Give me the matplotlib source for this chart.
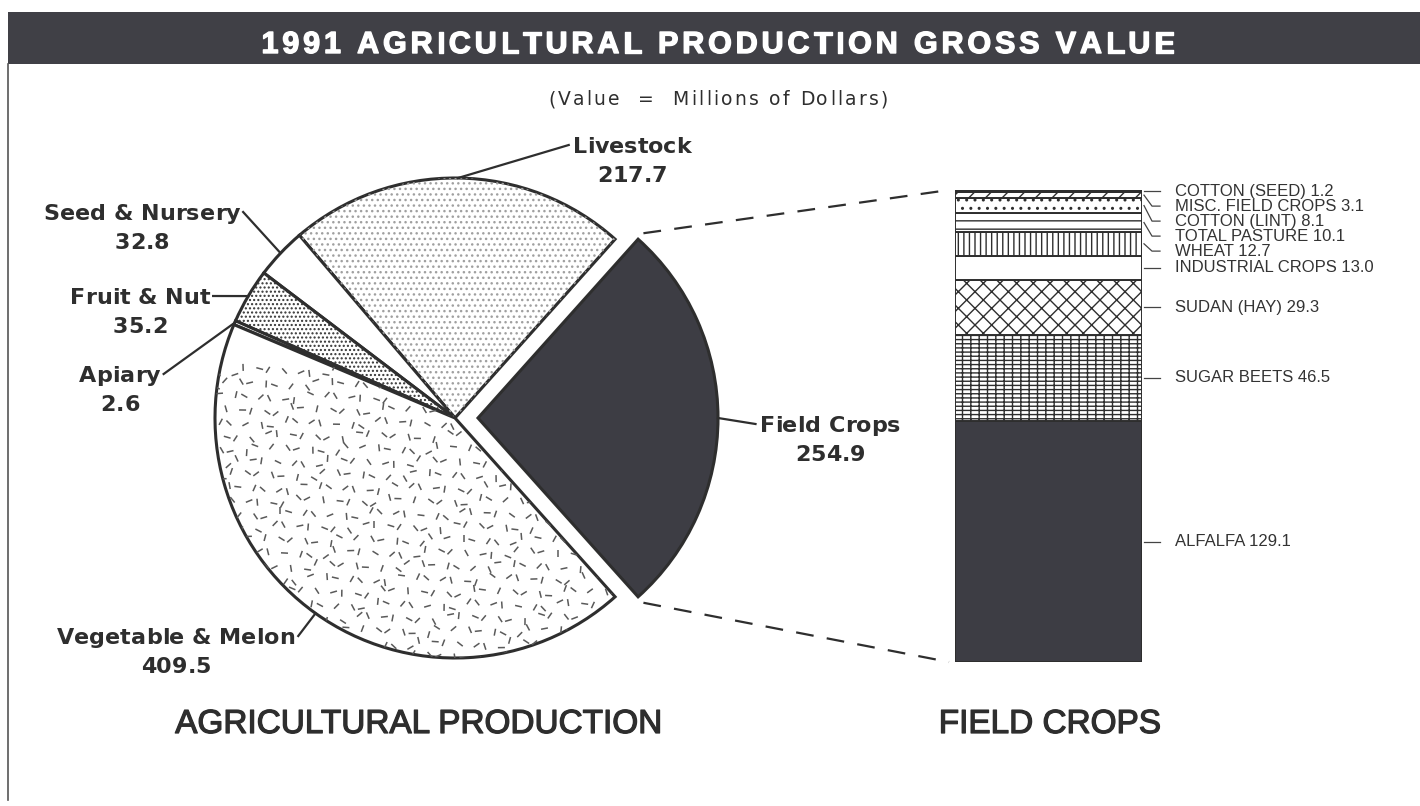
import numpy as np
import matplotlib
matplotlib.use("Agg")
import matplotlib.pyplot as plt
import matplotlib.patheffects as pe
from matplotlib.patches import Rectangle, Wedge
from matplotlib.collections import LineCollection
from matplotlib.font_manager import FontProperties, findfont, get_font

# ---------------- data ----------------
pie_labels = ["Field Crops", "Livestock", "Seed & Nursery", "Fruit & Nut", "Apiary", "Vegetable & Melon"]
pie_values = [254.9, 217.7, 32.8, 35.2, 2.6, 409.5]

bar_labels = ["ALFALFA", "SUGAR BEETS", "SUDAN (HAY)", "INDUSTRIAL CROPS", "WHEAT",
              "TOTAL PASTURE", "COTTON (LINT)", "MISC. FIELD CROPS", "COTTON (SEED)"]
bar_values = [129.1, 46.5, 29.3, 13.0, 12.7, 10.1, 8.1, 3.1, 1.2]

title = "1991 AGRICULTURAL PRODUCTION GROSS VALUE"
subtitle = "(Value  =  Millions of Dollars)"
left_caption = "AGRICULTURAL PRODUCTION"
right_caption = "FIELD CROPS"

# ---------------- styles ----------------
W, H, DPI = 1420, 806, 100
DARK = "#3d3d44"
INK = "#2e2e2e"
FONT = "Liberation Sans"
WIDE = "DejaVu Sans"
plt.rcParams["font.family"] = [FONT, "DejaVu Sans"]
plt.rcParams["hatch.linewidth"] = 1.0


def Y(y):
    return H - y


fig = plt.figure(figsize=(W / DPI, H / DPI), dpi=DPI)
fig.patch.set_facecolor("white")
ax = fig.add_axes([0, 0, 1, 1])


def advances(s, size, weight, family):
    fp = FontProperties(family=family, weight=weight, size=size)
    font = get_font(findfont(fp))
    font.set_size(size, DPI)
    out = []
    for c in s:
        g = font.load_char(ord(c))
        out.append(g.linearHoriAdvance / 65536.0)
    return out


def spaced_text(xc, baseline, s, size, weight="normal", family=WIDE, tracking=0.0,
                width=None, color=INK, effects=None):
    adv = advances(s, size, weight, family)
    natural = sum(adv)
    if width is not None and len(s) > 1:
        tracking = (width - natural) / (len(s) - 1)
    total = natural + tracking * (len(s) - 1)
    x = xc - total / 2
    for c, a in zip(s, adv):
        if c != " ":
            ax.text(x, Y(baseline), c, ha="left", va="baseline", fontsize=size,
                    fontweight=weight, family=family, color=color, zorder=6,
                    path_effects=effects)
        x += a + tracking
    return xc - total / 2, xc + total / 2


# ---------------- frame and title ----------------
ax.add_patch(Rectangle((8, Y(64)), W - 8, 52, facecolor="#404046", edgecolor="none", zorder=1))
ax.plot([8, 8], [Y(64), Y(800)], color="#555555", lw=1.2)
spaced_text(718, 53, title, 22, "bold", family=FONT, width=913, color="white",
            effects=[pe.withStroke(linewidth=1.0, foreground="white")])
spaced_text(718, 105, subtitle, 13.5, "normal", family=WIDE, width=340)

# ---------------- pie ----------------
center = (455, Y(418))
radius = 240
frac = pie_values[0] / sum(pie_values)
start = -frac * 360 / 2
explode = [23, 0, 0, 0, 0, 0]  # in data (pixel) units
pie_fc = [DARK, "white", "white", "white", "white", "white"]
wedges, _ = ax.pie(pie_values, startangle=start, counterclock=True, center=center,
                   radius=radius, explode=explode, colors=pie_fc,
                   wedgeprops=dict(edgecolor=INK, linewidth=2.2, zorder=3))

# hatch overlays
hatches = {1: ("...", "#a0a0a0"), 3: ("....", "#333333")}
for i, (hp, hc) in hatches.items():
    w = wedges[i]
    ov = Wedge(w.center, w.r, w.theta1, w.theta2, facecolor="none",
               edgecolor=hc, lw=0, hatch=hp, zorder=3.5)
    ax.add_patch(ov)

# vegetable texture: short strokes clipped to the wedge
veg = wedges[5]
segs = []
step = 13
for i, gx in enumerate(np.arange(200, 720, step)):
    for j, gy in enumerate(np.arange(Y(670), Y(370), step)):
        ang = np.deg2rad(((i * 73 + j * 151) % 180))
        ox = (((i * 31 + j * 17) % 7) - 3) * 1.2
        oy = (((i * 13 + j * 29) % 7) - 3) * 1.2
        cx, cy = gx + ox + (j % 2) * step / 2, gy + oy
        dx, dy = 3.5 * np.cos(ang), 3.5 * np.sin(ang)
        segs.append([(cx - dx, cy - dy), (cx + dx, cy + dy)])
lc = LineCollection(segs, colors="#5a5a5a", linewidths=1.1, zorder=3.4)
ax.add_collection(lc)
lc.set_clip_path(veg)

# label layout (centre x, baseline of first line)
label_pos = {
    "Livestock": (632, 153),
    "Seed & Nursery": (142, 220),
    "Fruit & Nut": (140, 304),
    "Apiary": (120, 382),
    "Vegetable & Melon": (176, 644),
    "Field Crops": (830, 432),
}
LINE = 29
for w, name, val in zip(wedges, pie_labels, pie_values):
    xc, bl = label_pos[name]
    l0, r0 = spaced_text(xc, bl, name, 16, "bold")
    spaced_text(xc, bl + LINE, f"{val:.1f}", 16, "bold")
    mid = np.deg2rad((w.theta1 + w.theta2) / 2)
    px = w.center[0] + w.r * np.cos(mid)
    py = w.center[1] + w.r * np.sin(mid)
    ey = Y(bl - 8)
    ex = l0 - 4 if np.cos(mid) > 0 else r0 + 3
    ax.plot([px, ex], [py, ey], color=INK, lw=1.6, zorder=4)

stroke = [pe.withStroke(linewidth=0.9, foreground=INK)]
ax.text(419, Y(733), left_caption, ha="center", va="baseline", fontsize=24, color=INK,
        path_effects=stroke)
ax.text(1050, Y(733), right_caption, ha="center", va="baseline", fontsize=24, color=INK,
        path_effects=stroke)

ax.set_xlim(0, W)
ax.set_ylim(0, H)
ax.axis("off")

# ---------------- stacked bar ----------------
bx0, bx1, by_top, by_bot = 955, 1142, 190, 662
ax2 = fig.add_axes([bx0 / W, (H - by_bot) / H, (bx1 - bx0) / W, (by_bot - by_top) / H])
bottoms = np.concatenate([[0], np.cumsum(bar_values)[:-1]])
bar_fc = [DARK, "white", "white", "white", "white", "white", "white", "white", DARK]
bar_hatch = [None, "----||", "xx", None, "|||", "--", "..", "//", None]
for v, b, fc, hp in zip(bar_values, bottoms, bar_fc, bar_hatch):
    ax2.bar(0.5, v, width=1.0, bottom=b, color=fc, edgecolor=INK, linewidth=1.4,
            hatch=hp)
ax2.set_xlim(0, 1)
ax2.set_ylim(0, sum(bar_values))
ax2.axis("off")

# connector dashed lines from exploded wedge to bar
fc_w = wedges[0]
to_data = ax.transData.inverted()
bar_tl = to_data.transform(ax2.transAxes.transform((0, 1)))
bar_bl = to_data.transform(ax2.transAxes.transform((0, 0)))
gap = 8
for th, target in [(fc_w.theta2, bar_tl), (fc_w.theta1, bar_bl)]:
    t = np.deg2rad(th)
    sx = fc_w.center[0] + (fc_w.r + gap) * np.cos(t)
    sy = fc_w.center[1] + (fc_w.r + gap) * np.sin(t)
    ax.plot([sx, target[0] - 6], [sy, target[1]], color=INK, lw=1.6,
            linestyle=(0, (8, 6)), zorder=4)

# bar labels spread from segment mid-points
mids = bottoms + np.array(bar_values) / 2
mid_y = [to_data.transform(ax2.transData.transform((1, m)))[1] for m in mids]
order = np.argsort(mid_y)[::-1]  # top first
lab_y = {}
prev = None
min_gap = 15
for k in order:
    y = mid_y[k]
    if prev is not None and y > prev - min_gap:
        y = prev - min_gap
    lab_y[k] = y
    prev = y
xr = to_data.transform(ax2.transAxes.transform((1, 0)))[0]
for k, (name, v) in enumerate(zip(bar_labels, bar_values)):
    ly = lab_y[k]
    ax.plot([xr + 2, xr + 10, xr + 18], [mid_y[k], ly, ly], color="#444444", lw=0.9)
    ax.text(xr + 33, ly, f"{name} {v:.1f}", ha="left", va="center", fontsize=12,
            color="#333333")

fig.savefig("out.png", dpi=DPI, facecolor="white")
